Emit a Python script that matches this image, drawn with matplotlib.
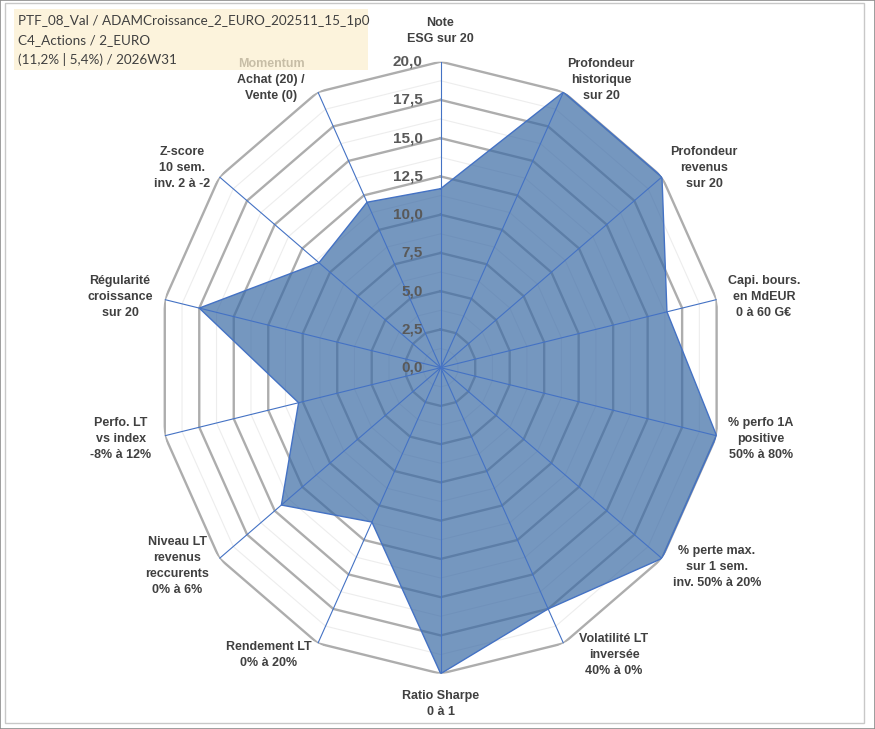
import numpy as np
import matplotlib.pyplot as plt
from matplotlib.patches import Rectangle

# axes of the radar, clockwise from the top
labels = ['Note\nESG sur 20',
          'Profondeur\nhistorique\nsur 20',
          'Profondeur\nrevenus\nsur 20',
          'Capi. bours.\nen MdEUR\n0 à 60 G€',
          '% perfo 1A\npositive\n50% à 80%',
          '% perte max.\nsur 1 sem.\ninv. 50% à 20%',
          'Volatilité LT\ninversée\n40% à 0%',
          'Ratio Sharpe\n0 à 1',
          'Rendement LT\n0% à 20%',
          'Niveau LT\nrevenus\nreccurents\n0% à 6%',
          'Perfo. LT\nvs index\n-8% à 12%',
          'Régularité\ncroissance\nsur 20',
          'Z-score\n10 sem.\ninv. 2 à -2',
          'Momentum\nAchat (20) /\nVente (0)']
values = [11.7, 20, 20, 16.4, 20, 20, 17.5, 20, 11.2, 14.4, 10.3, 17.5, 11.0, 12.0]

ticks = [0, 2.5, 5, 7.5, 10, 12.5, 15, 17.5, 20]
tick_labels = ['0,0', '2,5', '5,0', '7,5', '10,0', '12,5', '15,0', '17,5', '20,0']

title_lines = ['PTF_08_Val / ADAMCroissance_2_EURO_202511_15_1p0',
               'C4_Actions / 2_EURO',
               '(11,2% | 5,4%) / 2026W31']

# label centres in pixels (x from left, y from top)
label_pos = [(440, 31), (601, 80), (704, 168), (764, 297), (761, 439),
             (717, 567), (614, 655), (441, 704), (269, 655), (177, 566),
             (121, 439), (120, 297), (182, 168), (271, 80)]

W, H = 875, 729
fig = plt.figure(figsize=(W / 100, H / 100), dpi=100)
ax = fig.add_axes([0.1802, 0.0759, 0.6469, 0.8395], projection='polar')
ax.set_aspect('auto')
ax.set_theta_zero_location('N')
ax.set_theta_direction(-1)
ax.set_ylim(0, 20)
ax.grid(False)
ax.spines['polar'].set_visible(False)
ax.set_xticks([])
ax.set_yticks([])
ax.patch.set_alpha(0)

n = len(labels)
ang = np.arange(n) * 2 * np.pi / n
ang_c = np.append(ang, ang[0])

# polygon grid
for r in np.arange(1.25, 20.01, 2.5):
    ax.plot(ang_c, [r] * (n + 1), color='#EDEDED', lw=0.8, zorder=1)
for r in ticks[1:]:
    ax.plot(ang_c, [r] * (n + 1), color='#ADADAD', lw=1.7, zorder=2)

v = np.append(values, values[0])
ax.fill(ang_c, v, color='#3B6BA5', alpha=0.7, lw=0, zorder=3)
for a in ang:
    ax.plot([a, a], [0, 20], color='#4472C4', lw=0.8, zorder=4)
ax.plot(ang_c, v, color='#4472C4', lw=1, zorder=5)

for r, t in zip(ticks, tick_labels):
    ax.annotate(t, xy=(0, r), xytext=(-13, 0), textcoords='offset points',
                ha='right', va='center', fontsize=11, fontweight='bold',
                color='#595959', family='Liberation Sans', zorder=6)

for lab, (x, y) in zip(labels, label_pos):
    fig.text(x / W, 1 - y / H, lab, ha='center', va='center',
             multialignment='center', fontsize=9, fontweight='bold',
             color='#404040', family='Liberation Sans', linespacing=1.45)

# title box, a bit see-through like the original
box = Rectangle((14 / W, 1 - 70 / H), 354 / W, 61 / H, transform=fig.transFigure,
                facecolor='#FCEFCF', edgecolor='none', alpha=0.72, zorder=4)
fig.add_artist(box)
for line, y in zip(title_lines, [21, 40, 59]):
    fig.text(18 / W, 1 - y / H, line, ha='left', va='center', fontsize=9.7,
             family='Lato', color='#404040', zorder=5)

# chart frame
fig.add_artist(Rectangle((5 / W, 1 - 723 / H), 859 / W, 720 / H,
                         transform=fig.transFigure, fill=False,
                         edgecolor='#C8C8C8', lw=1))
fig.add_artist(Rectangle((0, 0), 1, 1, transform=fig.transFigure, fill=False,
                         edgecolor='#8C8C8C', lw=1.2))

fig.savefig('out.png', dpi=100)
